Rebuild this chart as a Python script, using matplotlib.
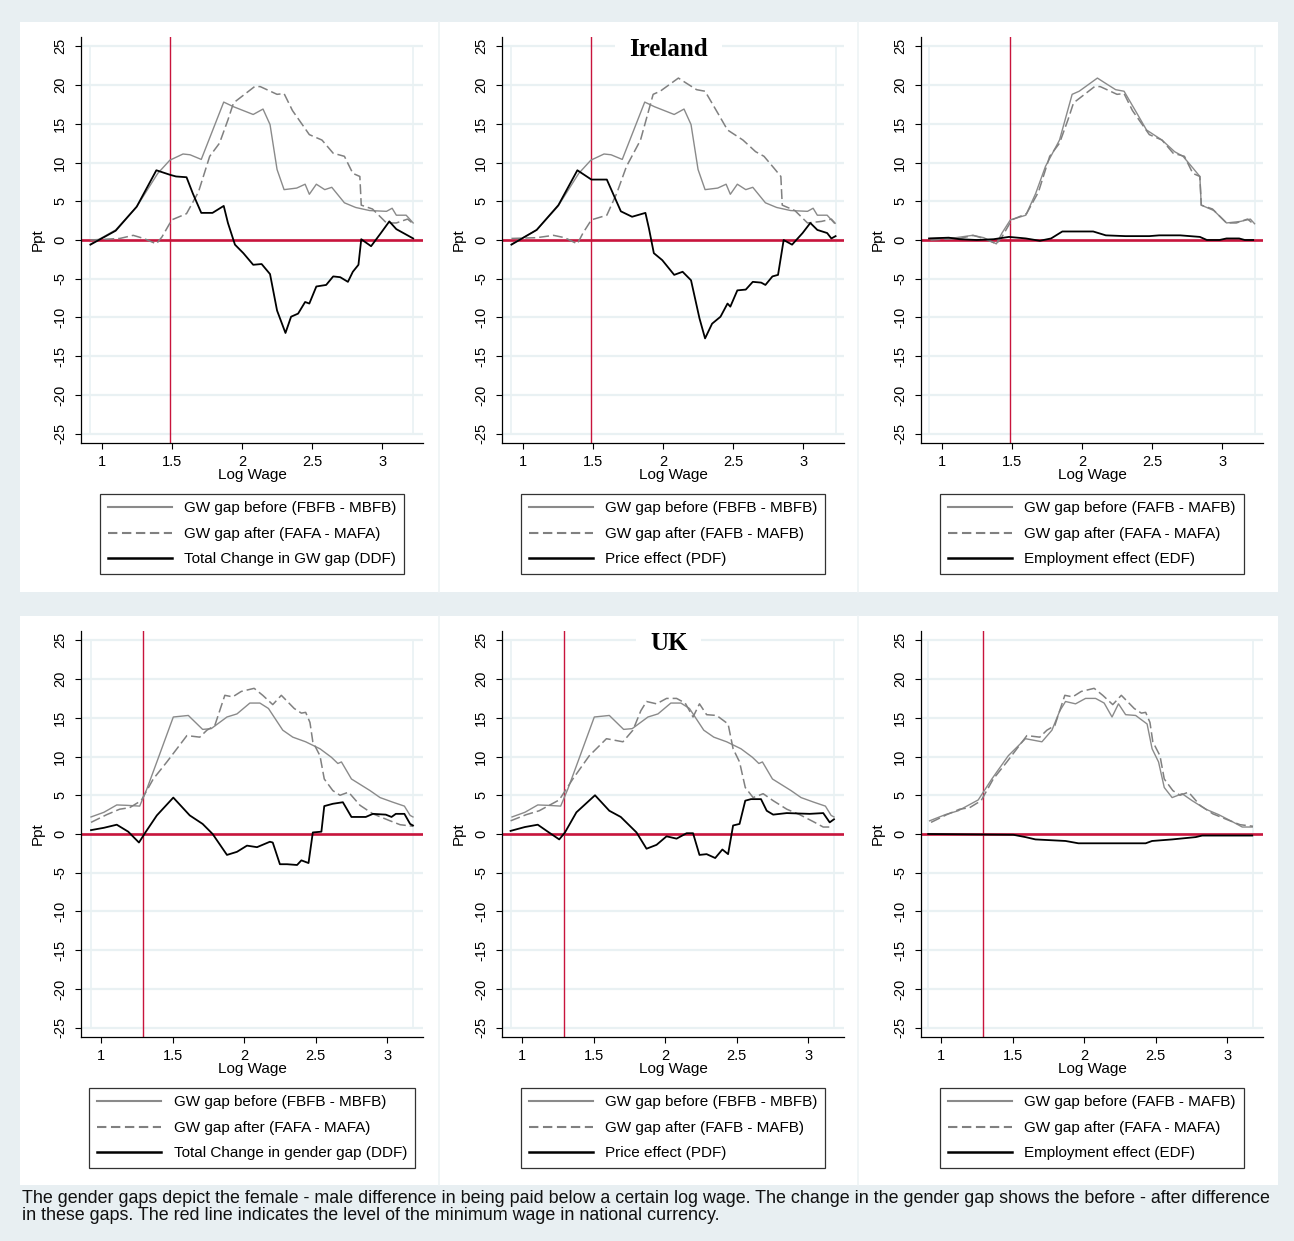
"""
plot.py - gender gap decomposition around the minimum wage, Ireland and UK

Three columns per country:
  DDF (total change), PDF (price effect), EDF (employment effect)
"""

import matplotlib
matplotlib.use("Agg")
import matplotlib.pyplot as plt
from matplotlib.patches import Rectangle
from matplotlib.lines import Line2D


# DATA (ppt)

# Ireland
ie_fbfb_x = [0.924, 1.10, 1.25, 1.40, 1.486, 1.58, 1.63, 1.71, 1.87, 1.94, 2.08, 2.15,
             2.20, 2.25, 2.30, 2.39, 2.45, 2.48, 2.53, 2.59, 2.64, 2.73, 2.81, 2.91,
             3.03, 3.07, 3.10, 3.17, 3.22]
ie_fbfb_y = [-0.5, 1.3, 4.3, 8.6, 10.3, 11.1, 11.0, 10.4, 17.8, 17.2, 16.2, 16.9,
             14.9, 9.1, 6.5, 6.7, 7.2, 5.9, 7.2, 6.5, 6.8, 4.8, 4.2, 3.8,
             3.7, 4.1, 3.2, 3.2, 2.2]

ie_fafa_x = [0.92, 1.13, 1.225, 1.30, 1.39, 1.43, 1.50, 1.605, 1.69, 1.77, 1.84, 1.90,
             1.94, 2.09, 2.13, 2.25, 2.30, 2.36, 2.48, 2.57, 2.65, 2.73, 2.79, 2.84,
             2.85, 2.93, 3.03, 3.10, 3.18, 3.22]
ie_fafa_y = [0.0, 0.2, 0.6, 0.2, -0.5, 0.4, 2.6, 3.4, 6.2, 10.8, 12.5, 15.5,
             17.7, 19.8, 19.8, 18.8, 18.9, 16.7, 13.6, 12.9, 11.2, 10.8, 8.6, 8.2,
             4.5, 4.0, 2.2, 2.2, 2.7, 2.1]

ie_fafb_x = [0.92, 1.10, 1.22, 1.30, 1.39, 1.43, 1.49, 1.60, 1.67, 1.74, 1.84, 1.93,
             1.98, 2.11, 2.17, 2.24, 2.30, 2.39, 2.46, 2.57, 2.66, 2.72, 2.79, 2.84,
             2.85, 2.94, 3.03, 3.13, 3.20, 3.23]
ie_fafb_y = [0.2, 0.3, 0.6, 0.3, -0.5, 0.9, 2.6, 3.2, 6.0, 9.5, 12.9, 18.8,
             19.2, 20.9, 20.2, 19.4, 19.2, 16.4, 14.2, 12.9, 11.4, 10.8, 9.3, 8.2,
             4.5, 3.8, 2.2, 2.4, 2.7, 2.1]

ie_ddf_x = [0.92, 1.10, 1.25, 1.39, 1.49, 1.53, 1.605, 1.65, 1.71, 1.79, 1.87, 1.90,
            1.95, 2.01, 2.08, 2.14, 2.20, 2.25, 2.31, 2.35, 2.40, 2.45, 2.48, 2.53,
            2.60, 2.65, 2.70, 2.755, 2.79, 2.83, 2.85, 2.92, 2.99, 3.05, 3.10, 3.15, 3.22]
ie_ddf_y = [-0.6, 1.2, 4.3, 9.0, 8.4, 8.2, 8.1, 6.0, 3.5, 3.5, 4.4, 2.2,
            -0.6, -1.7, -3.2, -3.1, -4.4, -9.1, -12.0, -9.9, -9.5, -8.0, -8.2, -6.0,
            -5.8, -4.7, -4.8, -5.4, -4.1, -3.2, 0.1, -0.8, 0.9, 2.4, 1.4, 0.9, 0.2]

ie_pdf_x = [0.92, 1.10, 1.255, 1.39, 1.49, 1.60, 1.70, 1.78, 1.875, 1.90, 1.935, 1.995,
            2.08, 2.14, 2.20, 2.26, 2.30, 2.35, 2.41, 2.46, 2.48, 2.53, 2.59, 2.64,
            2.70, 2.73, 2.78, 2.82, 2.86, 2.92, 2.995, 3.05, 3.10, 3.17, 3.20, 3.23]
ie_pdf_y = [-0.6, 1.3, 4.5, 9.0, 7.8, 7.8, 3.7, 3.0, 3.5, 1.5, -1.7, -2.6,
            -4.5, -4.1, -5.2, -10.1, -12.7, -10.8, -9.9, -8.2, -8.6, -6.5, -6.4, -5.4,
            -5.5, -5.8, -4.7, -4.5, 0.0, -0.6, 0.9, 2.2, 1.3, 0.9, 0.2, 0.5]

ie_edf_x = [0.91, 1.05, 1.13, 1.25, 1.37, 1.48, 1.60, 1.70, 1.78, 1.86, 2.08, 2.17,
            2.31, 2.48, 2.55, 2.70, 2.84, 2.89, 2.98, 3.03, 3.12, 3.16, 3.22]
ie_edf_y = [0.2, 0.3, 0.1, 0.0, 0.1, 0.4, 0.2, -0.1, 0.2, 1.1, 1.1, 0.6,
            0.5, 0.5, 0.6, 0.6, 0.4, 0.0, 0.0, 0.2, 0.2, 0.0, 0.0]

# UK
uk_fbfb_x = [0.93, 1.02, 1.11, 1.18, 1.27, 1.32, 1.39, 1.505, 1.61, 1.71, 1.77, 1.88,
             1.95, 2.04, 2.11, 2.17, 2.27, 2.34, 2.43, 2.53, 2.61, 2.655, 2.68, 2.75,
             2.88, 2.95, 3.04, 3.12, 3.16, 3.18]
uk_fbfb_y = [2.2, 2.8, 3.75, 3.7, 3.6, 5.8, 9.3, 15.1, 15.3, 13.5, 13.6, 15.1,
             15.5, 16.9, 16.9, 16.2, 13.4, 12.5, 11.9, 11.0, 9.9, 9.1, 9.3, 7.1,
             5.6, 4.7, 4.1, 3.6, 2.4, 2.2]

uk_fafa_x = [0.93, 1.04, 1.13, 1.20, 1.28, 1.365, 1.46, 1.53, 1.60, 1.69, 1.74, 1.795,
             1.865, 1.92, 1.98, 2.07, 2.13, 2.20, 2.26, 2.35, 2.40, 2.43, 2.46, 2.48,
             2.53, 2.56, 2.62, 2.67, 2.73, 2.81, 2.90, 3.02, 3.09, 3.18]
uk_fafa_y = [1.5, 2.5, 3.2, 3.4, 4.3, 7.1, 9.3, 11.0, 12.7, 12.5, 13.4, 14.0,
             17.9, 17.7, 18.4, 18.8, 17.9, 16.7, 17.9, 16.2, 15.6, 15.7, 14.4, 11.9,
             10.1, 7.1, 5.6, 5.0, 5.4, 3.7, 2.6, 1.7, 1.2, 1.0]

uk_fafb_x = [0.92, 1.03, 1.12, 1.26, 1.355, 1.47, 1.59, 1.705, 1.775, 1.83, 1.87, 1.94,
             2.01, 2.08, 2.14, 2.195, 2.24, 2.29, 2.36, 2.44, 2.475, 2.52, 2.56, 2.615,
             2.685, 2.755, 2.85, 2.94, 3.035, 3.105, 3.175]
uk_fafb_y = [1.7, 2.5, 3.0, 4.4, 7.1, 10.1, 12.3, 11.9, 13.4, 15.9, 17.1, 16.8,
             17.5, 17.5, 16.9, 15.1, 16.8, 15.4, 15.3, 14.2, 11.0, 9.3, 6.0, 4.7,
             5.2, 4.3, 3.2, 2.5, 1.6, 0.9, 0.9]

uk_ddf_x = [0.93, 1.02, 1.11, 1.19, 1.265, 1.31, 1.39, 1.505, 1.62, 1.71, 1.78, 1.88,
            1.95, 2.02, 2.09, 2.18, 2.20, 2.25, 2.30, 2.37, 2.40, 2.45, 2.48, 2.54,
            2.56, 2.62, 2.69, 2.75, 2.85, 2.90, 2.99, 3.03, 3.06, 3.12, 3.16, 3.18]
uk_ddf_y = [0.5, 0.8, 1.2, 0.3, -1.1, 0.2, 2.4, 4.7, 2.4, 1.3, 0.0, -2.7,
            -2.3, -1.5, -1.7, -1.0, -1.1, -3.9, -3.9, -4.0, -3.4, -3.75, 0.2, 0.3,
            3.6, 3.9, 4.1, 2.2, 2.2, 2.6, 2.5, 2.2, 2.6, 2.6, 1.3, 1.1]

uk_pdf_x = [0.92, 1.02, 1.11, 1.18, 1.26, 1.30, 1.38, 1.51, 1.61, 1.69, 1.80, 1.87,
            1.94, 2.01, 2.08, 2.15, 2.195, 2.24, 2.29, 2.35, 2.40, 2.44, 2.475, 2.52,
            2.56, 2.60, 2.67, 2.71, 2.755, 2.85, 3.01, 3.105, 3.15, 3.18]
uk_pdf_y = [0.4, 0.9, 1.2, 0.3, -0.7, 0.2, 2.8, 5.0, 3.0, 2.2, 0.2, -1.9,
            -1.4, -0.3, -0.6, 0.1, 0.1, -2.7, -2.6, -3.1, -2.0, -2.6, 1.1, 1.3,
            4.3, 4.5, 4.5, 3.0, 2.5, 2.7, 2.6, 2.7, 1.5, 1.9]

uk_edf_x = [0.91, 1.505, 1.59, 1.66, 1.87, 1.96, 2.43, 2.475, 2.615, 2.78, 2.825, 3.175]
uk_edf_y = [0.0, -0.1, -0.4, -0.7, -0.9, -1.2, -1.2, -0.9, -0.7, -0.4, -0.2, -0.2]

# minimum wage (log, national currency)
min_wage = {"Ireland": 1.485, "UK": 1.29}

country_titles = ["Ireland", "UK"]

y_ticks = [-25, -20, -15, -10, -5, 0, 5, 10, 15, 20, 25]
x_ticks = [1, 1.5, 2, 2.5, 3]
x_ticklabels = ["1", "1.5", "2", "2.5", "3"]

legend_ie = [
    ["GW gap before (FBFB - MBFB)", "GW gap after (FAFA - MAFA)", "Total Change in GW gap (DDF)"],
    ["GW gap before (FBFB - MBFB)", "GW gap after (FAFB - MAFB)", "Price effect (PDF)"],
    ["GW gap before (FAFB - MAFB)", "GW gap after (FAFA - MAFA)", "Employment effect (EDF)"],
]
legend_uk = [
    ["GW gap before (FBFB - MBFB)", "GW gap after (FAFA - MAFA)", "Total Change in gender gap (DDF)"],
    ["GW gap before (FBFB - MBFB)", "GW gap after (FAFB - MAFB)", "Price effect (PDF)"],
    ["GW gap before (FAFB - MAFB)", "GW gap after (FAFA - MAFA)", "Employment effect (EDF)"],
]

footnote = ("The gender gaps depict the female - male difference in being paid below a certain log wage. "
            "The change in the gender gap shows the before - after difference\n"
            "in these gaps. The red line indicates the level of the minimum wage in national currency.")


# STYLE

W, H = 1294, 1241
BG = "#e8eff2"
GRID = "#e9f1f3"
RED = "#c8143c"
GRAY_SOLID = "#8a8a8a"
GRAY_DASH = "#808080"

plt.rcParams["font.family"] = ["Liberation Sans", "DejaVu Sans"]
plt.rcParams["axes.unicode_minus"] = False


def px_axes(fig, left, top, width, bottom):
    """add axes using pixel coords measured from the top-left corner"""
    return fig.add_axes([left / W, 1 - bottom / H, width / W, (bottom - top) / H])


def draw_panel(ax, solid, dashed, black, mw, xlim, labels, title=None):
    # light gridlines + plot-region edges
    for yv in y_ticks:
        ax.axhline(yv, color=GRID, lw=1.6, zorder=0.5)
    all_x = solid[0] + dashed[0] + black[0]
    for xv in (min(all_x), max(all_x)):
        ax.plot([xv, xv], [y_ticks[0], y_ticks[-1]], color=GRID, lw=1.2, zorder=0.5)

    if title:
        ax.text(sum(xlim) / 2 - 0.03, 24.6, title, ha="center", va="center",
                fontsize=18, fontweight="bold", family="Liberation Serif",
                bbox=dict(facecolor="white", edgecolor="none", pad=10), zorder=1)

    ax.axhline(0, color=RED, lw=1.9, zorder=1.5)
    ax.axvline(mw, color=RED, lw=1.0, zorder=1.5)

    ax.plot(solid[0], solid[1], color=GRAY_SOLID, lw=1.0, zorder=2)
    ax.plot(dashed[0], dashed[1], color=GRAY_DASH, lw=1.1, zorder=2.1, dashes=(6.5, 2.6))
    ax.plot(black[0], black[1], color="black", lw=1.3, zorder=2.2)

    ax.set_xlim(*xlim)
    ax.set_ylim(-26.2, 26.2)
    ax.set_yticks(y_ticks)
    ax.set_xticks(x_ticks)
    ax.set_xticklabels(x_ticklabels)
    ax.tick_params(axis="y", labelrotation=90, length=4, width=0.8, pad=6, labelsize=10.5)
    ax.tick_params(axis="x", length=4, width=0.8, pad=5, labelsize=10.5)
    for lab in ax.get_yticklabels():
        lab.set_va("center")
    for side in ("top", "right"):
        ax.spines[side].set_visible(False)
    for side in ("left", "bottom"):
        ax.spines[side].set_linewidth(0.9)
    ax.set_facecolor("none")

    # Log Wage sits on the tick labels, as in the original Stata export
    ax.set_xlabel("Log Wage", fontsize=11, labelpad=-1)
    ax.set_ylabel("Ppt", fontsize=11, labelpad=6)

    leg_handles = [
        Line2D([], [], color=GRAY_SOLID, lw=1.5),
        Line2D([], [], color=GRAY_DASH, lw=1.5, dashes=(4.5, 2.2)),
        Line2D([], [], color="black", lw=1.8),
    ]
    leg = ax.legend(leg_handles, labels, loc="upper center", bbox_to_anchor=(0.5, -0.125),
                    fontsize=11, frameon=True, fancybox=False, edgecolor="black",
                    handlelength=4.2, handletextpad=0.8, labelspacing=0.75,
                    borderpad=0.5, borderaxespad=0)
    leg.get_frame().set_linewidth(0.9)


# MAIN

def main():
    fig = plt.figure(figsize=(W / 100, H / 100), dpi=100, facecolor=BG)

    # white panel backgrounds + faint dividers between the graphs
    for top, bottom in ((22, 592), (616, 1185)):
        fig.add_artist(Rectangle((20 / W, 1 - bottom / H), 1258 / W, (bottom - top) / H,
                                 transform=fig.transFigure, facecolor="white",
                                 edgecolor="none", zorder=0))
        for xd in (439, 858):
            fig.add_artist(Line2D([xd / W, xd / W], [1 - bottom / H, 1 - top / H],
                                  transform=fig.transFigure, color="#eef3f5", lw=1.2,
                                  zorder=0.1))

    lefts = [81, 502, 921]

    ie_series = [
        ((ie_fbfb_x, ie_fbfb_y), (ie_fafa_x, ie_fafa_y), (ie_ddf_x, ie_ddf_y)),
        ((ie_fbfb_x, ie_fbfb_y), (ie_fafb_x, ie_fafb_y), (ie_pdf_x, ie_pdf_y)),
        ((ie_fafb_x, ie_fafb_y), (ie_fafa_x, ie_fafa_y), (ie_edf_x, ie_edf_y)),
    ]
    uk_series = [
        ((uk_fbfb_x, uk_fbfb_y), (uk_fafa_x, uk_fafa_y), (uk_ddf_x, uk_ddf_y)),
        ((uk_fbfb_x, uk_fbfb_y), (uk_fafb_x, uk_fafb_y), (uk_pdf_x, uk_pdf_y)),
        ((uk_fafb_x, uk_fafb_y), (uk_fafa_x, uk_fafa_y), (uk_edf_x, uk_edf_y)),
    ]

    # top row: Ireland
    for i, (solid, dashed, black) in enumerate(ie_series):
        ax = px_axes(fig, lefts[i], 37, 342, 443)
        draw_panel(ax, solid, dashed, black, min_wage["Ireland"], (0.853, 3.29),
                   legend_ie[i], title=country_titles[0] if i == 1 else None)

    # bottom row: UK
    for i, (solid, dashed, black) in enumerate(uk_series):
        ax = px_axes(fig, lefts[i], 631, 342, 1037)
        draw_panel(ax, solid, dashed, black, min_wage["UK"], (0.86, 3.25),
                   legend_uk[i], title=country_titles[1] if i == 1 else None)

    fig.text(22 / W, 1 - 1190 / H, footnote, ha="left", va="top", fontsize=12.9,
             linespacing=1.0, color="#111111")

    fig.savefig("out.png", dpi=100, facecolor=BG)
    plt.close(fig)


if __name__ == "__main__":
    main()
